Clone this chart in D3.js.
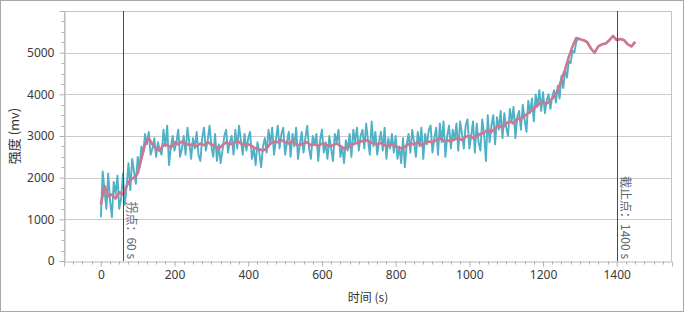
<!DOCTYPE html>
<html>
<head>
<meta charset="utf-8">
<script src="https://cdn.jsdelivr.net/npm/d3@7"></script>
<style>
    html, body { margin: 0; padding: 0; background: #fff; }
    #chart { width: 684px; height: 312px; }
    text { font-family: "Noto Sans", "Noto Sans CJK SC", sans-serif; }
</style>
</head>
<body>
<div id="chart"></div>
<script>
// raw signal, one value every 5 s starting at 0 s
const rawStep = 5;
const rawValues = [
    1050, 2150, 1700, 1250, 2100, 1450, 1050, 1900, 1600, 2050, 1250, 1500, 2100, 1350, 1800, 2350, 1700, 2450, 2150, 1850,
    2500, 2250, 2750, 2600, 3050, 2800, 3100, 2550, 2700, 2950, 2500, 2850, 2650, 2550, 3150, 2750, 3250, 2300, 2750, 3000,
    2650, 2850, 3150, 2500, 2700, 3000, 2550, 3200, 2850, 2450, 2950, 2700, 3100, 2550, 2400, 2950, 3200, 2650, 2900, 3250,
    2750, 2500, 3050, 2400, 2800, 2350, 2650, 3000, 3150, 2600, 2850, 3000, 2550, 3150, 2700, 3250, 2900, 2550, 3050, 2650,
    2950, 3100, 2450, 2700, 2300, 2850, 2600, 2250, 2750, 2950, 2600, 3150, 2800, 3200, 2550, 2900, 3250, 2700, 3050, 3200,
    2550, 2850, 3100, 2500, 3050, 2750, 3200, 2450, 2800, 3100, 2600, 2950, 3250, 2700, 2450, 3000, 2800, 3050, 2400, 2900,
    3150, 2600, 2850, 2450, 3000, 2700, 2400, 3050, 2850, 3150, 2500, 2750, 2350, 2900, 2650, 3050, 2500, 3150, 2850, 3200,
    2650, 3000, 3150, 2700, 3300, 2900, 2550, 3350, 2750, 3100, 2550, 2850, 3100, 2650, 3200, 2450, 2950, 2700, 3050, 2600,
    3000, 2450, 2750, 2350, 2950, 2250, 2800, 3050, 2600, 3150, 2850, 2500, 3100, 2750, 3200, 2450, 3050, 2800, 3150, 3250,
    2600, 2950, 3200, 2550, 3300, 2850, 3350, 2500, 3000, 3250, 2700, 3150, 2900, 3300, 2650, 3350, 3050, 2700, 3250, 3400,
    2700, 3000, 3350, 2600, 3300, 2850, 2650, 3400, 3050, 2400, 3500, 2850, 3250, 3500, 2800, 3450, 3150, 3600, 2950, 3550,
    3200, 3000, 3650, 3350, 3700, 2950, 3450, 3600, 3150, 3750, 3400, 3100, 3850, 3550, 3900, 3350, 4000, 3700, 4100, 3600,
    4050, 3550, 3850, 4000, 3650, 3950, 4100, 3800, 4200, 3900, 4450, 4150, 4600, 4400, 4800, 4750, 5050, 5000, 5250, 5350,
    5330, 5310, 5300, 5280, 5250, 5180, 5100, 5040, 5000, 5080, 5150, 5180, 5200, 5210, 5220, 5260, 5300, 5350, 5400, 5350,
    5300, 5320, 5330, 5320, 5300, 5250, 5200, 5170, 5150, 5200, 5260
];

// smoothed signal, one value every 10 s starting at 0 s
const smoothStep = 10;
const smoothValues = [
    1350, 1800, 1550, 1600, 1500, 1650, 1600, 1800, 1950, 2000,
    2100, 2450, 2800, 2950, 2800, 2680, 2650, 2800, 2780, 2720,
    2850, 2800, 2870, 2820, 2780, 2800, 2750, 2820, 2780, 2850,
    2800, 2750, 2700, 2780, 2850, 2800, 2820, 2900, 2820, 2780,
    2800, 2760, 2700, 2680, 2650, 2700, 2820, 2860, 2850, 2900,
    2850, 2820, 2870, 2800, 2780, 2820, 2850, 2780, 2800, 2760,
    2820, 2800, 2750, 2780, 2820, 2760, 2700, 2720, 2780, 2820,
    2850, 2880, 2900, 2860, 2820, 2800, 2830, 2780, 2760, 2800,
    2750, 2720, 2700, 2780, 2820, 2800, 2850, 2780, 2830, 2870,
    2850, 2900, 2950, 2880, 2900, 2870, 2920, 2950, 2900, 2980,
    3000, 2950, 3000, 3050, 3080, 3150, 3100, 3180, 3250, 3200,
    3300, 3350, 3300, 3420, 3400, 3480, 3550, 3620, 3700, 3780,
    3800, 3780, 3850, 3950, 4100, 4350, 4600, 4900, 5150, 5350,
    5320, 5300, 5250, 5100, 5000, 5150, 5200, 5220, 5300, 5400,
    5300, 5330, 5300, 5200, 5150, 5260
];

const xTicks = [0, 200, 400, 600, 800, 1000, 1200, 1400];
const yTicks = [0, 1000, 2000, 3000, 4000, 5000];

const markers = [
    { t: 60, label: "拐点：60 s" },
    { t: 1400, label: "截止点：1400 s" }
];

const width = 684, height = 312;
const margin = { top: 11, right: 12, bottom: 51, left: 64 };
const plotW = width - margin.left - margin.right;
const plotH = height - margin.top - margin.bottom;

const svg = d3.select("#chart").append("svg")
    .attr("width", width)
    .attr("height", height);

// outer frame
svg.append("rect")
    .attr("x", 0.5).attr("y", 0.5)
    .attr("width", width - 1).attr("height", height - 1)
    .attr("fill", "#fff")
    .attr("stroke", "#a8a8a8");

const x = d3.scaleLinear().domain([-100, 1550]).range([0, plotW]);
const y = d3.scaleLinear().domain([0, 6000]).range([plotH, 0]);

const g = svg.append("g").attr("transform", `translate(${margin.left},${margin.top})`);

// horizontal grid
g.append("g")
    .selectAll("line")
    .data(yTicks.filter(d => d > 0))
    .enter().append("line")
    .attr("x1", 0).attr("x2", plotW)
    .attr("y1", d => Math.round(y(d)) + 0.5)
    .attr("y2", d => Math.round(y(d)) + 0.5)
    .attr("stroke", "#cccccc");

// plot frame (left, top, right)
g.append("path")
    .attr("d", `M0.5,${plotH}V0.5H${plotW - 0.5}V${plotH}`)
    .attr("fill", "none")
    .attr("stroke", "#c4c4c4");

// x axis
const xAxis = g.append("g")
    .attr("transform", `translate(0,${plotH + 0.5})`)
    .call(d3.axisBottom(x).tickValues(xTicks).tickFormat(d3.format("d")).tickSize(5).tickPadding(4));
xAxis.append("g")
    .selectAll("line")
    .data(d3.range(-75, 1550, 25).filter(d => d % 200 !== 0))
    .enter().append("line")
    .attr("x1", d => Math.round(x(d)) + 0.5)
    .attr("x2", d => Math.round(x(d)) + 0.5)
    .attr("y1", 0).attr("y2", 3)
    .attr("stroke", "#b0b0b0");

// y axis
const yAxis = g.append("g")
    .attr("transform", "translate(0.5,0)")
    .call(d3.axisLeft(y).tickValues(yTicks).tickFormat(d3.format("d")).tickSize(5).tickPadding(5));
yAxis.append("g")
    .selectAll("line")
    .data(d3.range(250, 6000, 250).filter(d => d % 1000 !== 0))
    .enter().append("line")
    .attr("y1", d => Math.round(y(d)) + 0.5)
    .attr("y2", d => Math.round(y(d)) + 0.5)
    .attr("x1", 0).attr("x2", -3)
    .attr("stroke", "#b0b0b0");

[xAxis, yAxis].forEach(a => {
    a.select(".domain").attr("stroke", "#b8b8b8");
    a.selectAll(".tick line").attr("stroke", "#b0b0b0");
    a.selectAll(".tick text")
        .attr("fill", "#3a3a3a")
        .attr("font-size", "12px")
        .attr("font-family", "Noto Sans, sans-serif");
});

// axis titles
svg.append("text")
    .attr("x", margin.left + plotW / 2)
    .attr("y", 302)
    .attr("text-anchor", "middle")
    .attr("font-size", "12px")
    .attr("fill", "#333")
    .style("font-family", "'Noto Sans CJK SC', sans-serif")
    .text("时间 (s)");

svg.append("text")
    .attr("transform", `translate(19,${margin.top + plotH / 2}) rotate(-90)`)
    .attr("text-anchor", "middle")
    .attr("font-size", "13px")
    .attr("fill", "#333")
    .style("font-family", "'Noto Sans CJK SC', sans-serif")
    .text("强度 (mv)");

// series
const rawData = rawValues.map((v, i) => ({ t: i * rawStep, v }));
const smoothData = smoothValues.map((v, i) => ({ t: i * smoothStep, v }));

const line = d3.line().x(d => x(d.t)).y(d => y(d.v));

g.append("path")
    .datum(rawData)
    .attr("fill", "none")
    .attr("stroke", "#4fb0c6")
    .attr("stroke-width", 1.9)
    .attr("stroke-linejoin", "round")
    .attr("d", line);

g.append("path")
    .datum(smoothData)
    .attr("fill", "none")
    .attr("stroke", "#cf7690")
    .attr("stroke-width", 2.6)
    .attr("stroke-linejoin", "round")
    .attr("d", line);

// marker lines with vertical labels
const mk = g.append("g")
    .selectAll("g")
    .data(markers)
    .enter().append("g")
    .attr("transform", d => `translate(${Math.round(x(d.t)) + 0.5},0)`);

mk.append("line")
    .attr("y1", 0).attr("y2", plotH)
    .attr("stroke", "#3e4b5b")
    .attr("stroke-width", 1);

mk.append("text")
    .attr("transform", `translate(3,${plotH - 2}) rotate(90)`)
    .attr("text-anchor", "end")
    .attr("font-size", "12px")
    .attr("fill", "#5b6672")
    .style("font-family", "'Noto Sans CJK SC', sans-serif")
    .text(d => d.label);
</script>
</body>
</html>
